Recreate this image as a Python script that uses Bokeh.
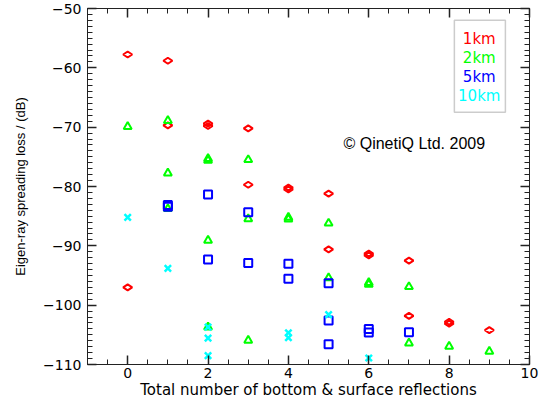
import numpy as np
from bokeh.plotting import figure
from bokeh.models import (LinearAxis, SingleIntervalTicker, Range1d, BoxAnnotation,
                          Label)
from bokeh.embed import file_html
from bokeh.resources import INLINE

# ---- data ----
# 1 km (red diamonds)
km1_x = [0, 0, 1, 1, 2, 2, 3, 3, 4, 4, 5, 5, 6, 6, 7, 7, 8, 8, 9]
km1_y = [-57.75, -97.0, -58.8, -69.7, -69.4, -69.8, -70.2, -79.7, -80.2, -80.5,
         -81.2, -90.6, -91.3, -91.6, -92.5, -101.8, -102.8, -103.1, -104.2]
# 2 km (green triangles)
km2_x = [0, 1, 1, 1, 2, 2, 2, 2, 3, 3, 3, 4, 4, 5, 5, 6, 6, 7, 7, 8, 9]
km2_y = [-69.9, -68.9, -77.75, -83.75, -75.3, -75.6, -89.1, -103.7, -75.5, -85.45,
         -105.95, -85.2, -85.5, -86.2, -95.4, -96.2, -96.5, -96.9, -106.4, -106.95,
         -107.8]
# 5 km (blue squares)
km5_x = [1, 1, 2, 2, 3, 3, 4, 4, 5, 5, 5, 6, 6, 7]
km5_y = [-83.1, -83.4, -81.35, -92.3, -84.35, -92.9, -93.0, -95.55, -96.3, -102.6,
         -106.6, -104.0, -104.6, -104.55]
# 10 km (cyan crosses)
km10_x = [0, 1, 2, 2, 2, 4, 4, 5, 6]
km10_y = [-85.2, -93.8, -103.7, -105.55, -108.5, -104.65, -105.5, -101.6, -108.9]

legend_labels = ["1km", "2km", "5km", "10km"]
colors = ["#ff0000", "#00ff00", "#0000ff", "#00ffff"]

x_label = "Total number of bottom & surface reflections"
y_label = "Eigen-ray spreading loss / (dB)"
copyright_text = "\u00a9 QinetiQ Ltd. 2009"

FONT = "DejaVu Sans"

p = figure(width=542, height=401, output_backend="svg", toolbar_location=None,
           x_range=Range1d(-1, 10), y_range=Range1d(-110, -50),
           min_border_left=87, min_border_right=13, min_border_top=8,
           min_border_bottom=37, x_axis_location=None, y_axis_location=None)
p.grid.visible = False
p.outline_line_color = "#222222"
p.outline_line_width = 1
p.background_fill_color = "white"
p.border_fill_color = "white"


def style_axis(ax, show_labels=True):
    ax.major_tick_in = 9
    ax.major_tick_out = 0
    ax.minor_tick_in = 5
    ax.minor_tick_out = 0
    ax.axis_line_color = "#222222"
    ax.major_tick_line_color = "#222222"
    ax.minor_tick_line_color = "#222222"
    ax.major_tick_line_width = 1.5
    ax.minor_tick_line_width = 1
    if show_labels:
        ax.major_label_text_font = FONT
        ax.major_label_text_font_size = "14px"
        ax.major_label_text_color = "black"
        ax.axis_label_text_font = FONT
        ax.axis_label_text_font_size = "15px"
        ax.axis_label_text_font_style = "normal"
        ax.axis_label_text_color = "black"
    else:
        ax.major_label_text_color = None
        ax.major_label_text_font_size = "1px"
        ax.major_label_standoff = 0


xb = LinearAxis(ticker=SingleIntervalTicker(interval=2, num_minor_ticks=4),
                axis_label=x_label)
style_axis(xb)
xb.major_label_standoff = 3
xb.axis_label_standoff = 0
p.add_layout(xb, "below")

xt = LinearAxis(ticker=SingleIntervalTicker(interval=2, num_minor_ticks=4))
style_axis(xt, False)
p.add_layout(xt, "above")

yl = LinearAxis(ticker=SingleIntervalTicker(interval=10, num_minor_ticks=10),
                axis_label=y_label)
style_axis(yl)
yl.major_label_standoff = 6
yl.axis_label_standoff = 12
yl.axis_label_text_font = "Liberation Sans"
yl.axis_label_text_font_size = "13px"
p.add_layout(yl, "left")

yr = LinearAxis(ticker=SingleIntervalTicker(interval=10, num_minor_ticks=10))
style_axis(yr, False)
p.add_layout(yr, "right")

# ---- markers ----
p.scatter(km1_x, km1_y, marker="diamond", size=9, angle=np.pi / 2,
          fill_color=None, line_color=colors[0], line_width=2)
p.scatter(km2_x, km2_y, marker="triangle", size=8,
          fill_color=None, line_color=colors[1], line_width=2)
p.scatter(km5_x, km5_y, marker="square", size=8,
          fill_color=None, line_color=colors[2], line_width=2)
p.scatter(km10_x, km10_y, marker="x", size=9,
          line_color=colors[3], line_width=2.5)

# ---- legend box ----
p.add_layout(BoxAnnotation(left=8.13, right=9.40, top=-52.0, bottom=-67.5,
                           fill_color="white", fill_alpha=1.0,
                           line_color="#555555", line_width=1.5))
leg_y = [-55.2, -58.4, -61.6, -64.8]
for lab, col, yy in zip(legend_labels, colors, leg_y):
    p.add_layout(Label(x=8.75, y=yy, text=lab, text_color=col,
                       text_align="center", text_baseline="middle",
                       text_font=FONT, text_font_size="15px"))

p.add_layout(Label(x=5.37, y=-72.75, text=copyright_text, text_color="black",
                   text_align="left", text_baseline="middle",
                   text_font="Liberation Sans", text_font_size="16px"))

open("out.html", "w").write(file_html(p, INLINE))
